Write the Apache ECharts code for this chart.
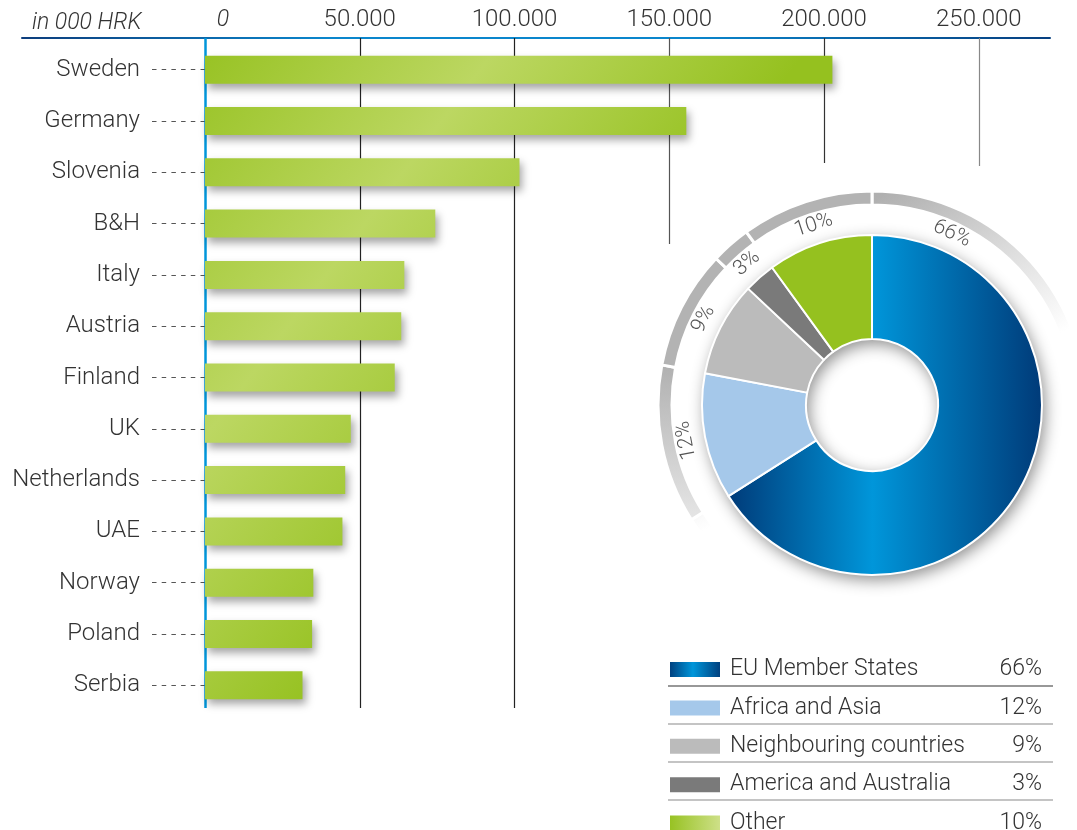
<!DOCTYPE html>
<html>
<head>
<meta charset="utf-8">
<script src="https://cdn.jsdelivr.net/npm/echarts@6/dist/echarts.min.js"></script>
<style>
  html, body { margin: 0; padding: 0; background: #fff; }
  #chart { width: 1077px; height: 830px; }
</style>
</head>
<body>
<div id="chart"></div>
<script>
  // export by country, in 000 HRK
  const countries = ['Sweden', 'Germany', 'Slovenia', 'B&H', 'Italy', 'Austria', 'Finland', 'UK', 'Netherlands', 'UAE', 'Norway', 'Poland', 'Serbia'];
  const exportValues = [202700, 155500, 101600, 74400, 64400, 63400, 61300, 47100, 45300, 44400, 35000, 34600, 31500];
  const tickValues = [50000, 100000, 150000, 200000, 250000];
  const axisMax = 273000;
  const tickStep = 50000;

  // export by region, %
  const regions = ['EU Member States', 'Africa and Asia', 'Neighbouring countries', 'America and Australia', 'Other'];
  const shares = [66, 12, 9, 3, 10];

  const FONT = 'Roboto';
  const TEXT = '#333';
  const G = echarts.graphic;

  const sliceColors = [
    new G.LinearGradient(0, 0, 1, 0, [
      {offset: 0, color: '#003a78'}, {offset: 0.46, color: '#0096da'}, {offset: 1, color: '#003a78'}]),
    '#a5c8ea', '#bbbbbb', '#7a7a7a', '#95c11f',
  ];
  const swatchColors = sliceColors.slice(0, 4).concat([
    new G.LinearGradient(0, 0, 1, 0, [{offset: 0, color: '#95c11f'}, {offset: 1, color: '#d0e18c'}]),
  ]);
  const ringColors = [
    new G.LinearGradient(0, 0, 0.6, 1, [
      {offset: 0, color: '#a6a6a6'}, {offset: 0.2, color: '#b0b0b0'},
      {offset: 0.42, color: '#dcdcdc'}, {offset: 0.62, color: '#ffffff'}]),
    new G.LinearGradient(0, 0, 0, 1, [{offset: 0, color: '#b0b0b0'}, {offset: 1, color: '#e6e6e6'}]),
    '#b3b3b3', '#b3b3b3', '#b3b3b3',
  ];
  const gridColors = ['#222', '#222', '#555', '#333', '#888'];
  const gridEnds = [708, 708, 244, 163, 166];

  const fmt = v => String(v).replace(/\B(?=(\d{3})+(?!\d))/g, '.');
  const pieCenter = [872, 405];

  // label angle: outward-facing tangent at the middle of each slice
  let acc = 0;
  const labelRotate = shares.map(s => {
    const mid = 90 - (acc + s / 2) * 3.6;
    acc += s;
    return mid - 90;
  });
  const ringLabel = {
    position: 'inside',
    formatter: '{c}%',
    fontFamily: FONT,
    fontWeight: 300,
    fontSize: 21,
    color: '#555',
  };

  const chart = echarts.init(document.getElementById('chart'));
  chart.setOption({
    animation: false,
    title: {
      text: 'in 000 HRK',
      left: 27,
      top: 7,
      textStyle: {fontFamily: FONT, fontWeight: 300, fontStyle: 'italic', fontSize: 23, color: TEXT},
    },
    grid: [
      {left: 205, right: 27, top: 44, bottom: 119},
      {left: 22, right: 27, top: 38, height: 20},
    ],
    xAxis: [
      {
        type: 'value',
        gridIndex: 0,
        position: 'top',
        min: 0,
        max: axisMax,
        interval: tickStep,
        axisLine: {show: false},
        axisTick: {show: false},
        splitLine: {show: false},
        axisLabel: {
          margin: 12,
          showMaxLabel: false,
          fontFamily: FONT,
          fontWeight: 300,
          fontSize: 24,
          color: TEXT,
          formatter: v => v === 0 ? '{z|0}' : fmt(v),
          rich: {z: {fontFamily: FONT, fontWeight: 300, fontStyle: 'italic', fontSize: 23, color: TEXT, padding: [0, 0, 0, 36]}},
        },
      },
      {
        type: 'value',
        gridIndex: 1,
        position: 'top',
        axisLine: {
          onZero: false,
          lineStyle: {
            width: 2,
            color: new G.LinearGradient(0, 0, 1, 0, [
              {offset: 0, color: '#0d3d7c'}, {offset: 0.3, color: '#0a86cc'},
              {offset: 0.65, color: '#0a86cc'}, {offset: 1, color: '#073f80'}]),
          },
        },
        axisTick: {show: false},
        axisLabel: {show: false},
        splitLine: {show: false},
      },
    ],
    yAxis: [
      {
        type: 'category',
        gridIndex: 0,
        inverse: true,
        data: countries,
        axisLine: {show: false},
        axisTick: {show: true, alignWithLabel: true, length: 54, lineStyle: {color: '#555', width: 1, type: [4.5, 5.2]}},
        axisLabel: {margin: 65, fontFamily: FONT, fontWeight: 300, fontSize: 24, color: TEXT},
      },
      {type: 'value', gridIndex: 1, show: false},
    ],
    legend: {
      orient: 'vertical',
      left: 668,
      top: 658,
      height: 200,
      padding: 0,
      icon: 'rect',
      itemWidth: 52,
      itemHeight: 17,
      itemGap: 15.4,
      selectedMode: false,
      data: regions.map((r, i) => ({name: r, itemStyle: {color: swatchColors[i]}})),
      formatter: name => `{n|${name}}{p|${shares[regions.indexOf(name)]}%}`,
      textStyle: {
        fontSize: 23,
        rich: {
          n: {width: 250, padding: [0, 0, 0, 4], fontFamily: FONT, fontWeight: 300, fontSize: 23, color: TEXT},
          p: {width: 62, align: 'right', fontFamily: FONT, fontWeight: 300, fontSize: 23, color: TEXT},
        },
      },
    },
    graphic: [686, 724, 762, 800].map((y, i) => ({
      type: 'line',
      silent: true,
      shape: {x1: 668, y1: y, x2: 1053, y2: y},
      style: {stroke: i === 0 ? '#333' : '#8a8a8a', lineWidth: 1.2},
    })),
    series: [
      {
        type: 'bar',
        xAxisIndex: 0,
        yAxisIndex: 0,
        data: exportValues,
        barWidth: 28,
        z: 3,
        itemStyle: {
          color: new G.LinearGradient(145, 100, 545, 400, [
            {offset: 0, color: '#95c11f'}, {offset: 0.5, color: '#bcd762'}, {offset: 1, color: '#95c11f'}], true),
          shadowColor: 'rgba(0,0,0,0.35)',
          shadowBlur: 8,
          shadowOffsetX: 3,
          shadowOffsetY: 5,
        },
        markLine: {
          silent: true,
          z: 1,
          symbol: 'none',
          label: {show: false},
          data: tickValues.map((v, i) => [
            {coord: [v, 0], y: 38, lineStyle: {color: gridColors[i], width: 1.2, type: 'solid'}},
            {coord: [v, 0], y: gridEnds[i]},
          ]).concat([[
            {coord: [0, 0], y: 38, lineStyle: {color: '#0096da', width: 2.5, type: 'solid'}},
            {coord: [0, 0], y: 708},
          ]]),
        },
      },
      // shadow under the donut
      {
        type: 'pie',
        silent: true,
        center: pieCenter,
        radius: [66, 170],
        label: {show: false},
        itemStyle: {color: '#fff', shadowColor: 'rgba(0,0,0,0.45)', shadowBlur: 16, shadowOffsetX: 3, shadowOffsetY: 5},
        data: [{value: 1, name: ''}],
      },
      {
        type: 'pie',
        silent: true,
        center: pieCenter,
        radius: [66, 170],
        startAngle: 90,
        label: {show: false},
        itemStyle: {borderColor: '#fff', borderWidth: 2},
        data: regions.map((r, i) => ({name: r, value: shares[i], itemStyle: {color: sliceColors[i]}})),
      },
      // outer ring
      {
        type: 'pie',
        silent: true,
        center: pieCenter,
        radius: [200, 214],
        startAngle: 90,
        label: {show: false},
        itemStyle: {borderColor: '#fff', borderWidth: 3},
        data: regions.map((r, i) => ({name: r, value: shares[i], itemStyle: {color: ringColors[i]}})),
      },
      // ring labels
      {
        type: 'pie',
        silent: true,
        center: pieCenter,
        radius: [174, 198],
        startAngle: 90,
        itemStyle: {color: 'rgba(0,0,0,0)'},
        label: ringLabel,
        data: regions.map((r, i) => ({
          name: r, value: shares[i], label: {show: i !== 0, rotate: labelRotate[i]},
        })),
      },
      // label of the big slice sits near its start
      {
        type: 'pie',
        silent: true,
        center: pieCenter,
        radius: [174, 198],
        startAngle: 183.8,
        itemStyle: {color: 'rgba(0,0,0,0)'},
        label: Object.assign({}, ringLabel, {rotate: -25}),
        data: [
          {name: regions[0], value: shares[0]},
          {name: ' ', value: 100 - shares[0], label: {show: false}},
        ],
      },
    ],
  });
</script>
</body>
</html>
